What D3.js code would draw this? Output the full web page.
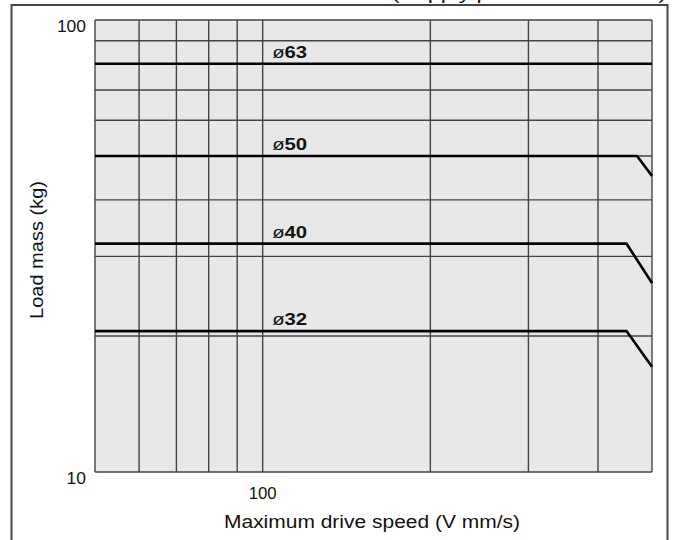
<!DOCTYPE html>
<html>
<head>
<meta charset="utf-8">
<script src="https://cdn.jsdelivr.net/npm/d3@7"></script>
<style>
  body { margin: 0; background: #fff; }
  text { font-family: "Liberation Sans", Arial, sans-serif; fill: #111; }
</style>
</head>
<body>
<div class="canva"></div>
<script>
// values
const boreSizes = ["63", "50", "40", "32"];
const flatMass = [80, 50, 32, 20.5];
const bendSpeed = [500, 470, 450, 450];
const endMass = [80, 45.2, 26.2, 17.1];
const labelSpeed = 104;

const xGrid = [50, 60, 70, 80, 90, 100, 200, 300, 400, 500];
const yGrid = [10, 20, 30, 40, 50, 60, 70, 80, 90, 100];
const xTickLabels = [100];
const yTickLabels = [10, 100];

const svg = d3.select(".canva").append("svg")
    .attr("width", 675)
    .attr("height", 540);

const margin = {top: 20, right: 23, bottom: 68, left: 95};
const graphWidth = 675 - margin.left - margin.right;
const graphHeight = 540 - margin.top - margin.bottom;

// outer frame (runs past the bottom of the picture)
svg.append("rect")
    .attr("x", 11.5).attr("y", 5)
    .attr("width", 656).attr("height", 560)
    .attr("fill", "none")
    .attr("stroke", "#444")
    .attr("stroke-width", 2);

// heading, mostly cut off at the very top like the reference
svg.append("text")
    .attr("x", 666).attr("y", 0)
    .attr("text-anchor", "end")
    .attr("font-size", 17)
    .attr("textLength", 274)
    .attr("lengthAdjust", "spacingAndGlyphs")
    .text("(Supply pressure 0.5 MPa)");

const g = svg.append("g")
    .attr("transform", `translate(${margin.left}, ${margin.top})`);

const x = d3.scaleLog().domain([50, 500]).range([0, graphWidth]);
const y = d3.scaleLog().domain([10, 100]).range([graphHeight, 0]);

g.append("rect")
    .attr("width", graphWidth)
    .attr("height", graphHeight)
    .attr("fill", "#e8e8e8");

g.selectAll(".vgrid").data(xGrid).enter()
    .append("line")
    .attr("class", "vgrid")
    .attr("x1", d => x(d)).attr("x2", d => x(d))
    .attr("y1", 0).attr("y2", graphHeight)
    .attr("stroke", "#444")
    .attr("stroke-width", 1.4);

g.selectAll(".hgrid").data(yGrid).enter()
    .append("line")
    .attr("class", "hgrid")
    .attr("x1", 0).attr("x2", graphWidth)
    .attr("y1", d => y(d)).attr("y2", d => y(d))
    .attr("stroke", "#444")
    .attr("stroke-width", 1.4);

// tick labels
g.selectAll(".xlab").data(xTickLabels).enter()
    .append("text")
    .attr("x", d => x(d))
    .attr("y", graphHeight + 27)
    .attr("text-anchor", "middle")
    .attr("font-size", 16)
    .attr("textLength", 28)
    .attr("lengthAdjust", "spacingAndGlyphs")
    .text(d => d);

g.selectAll(".ylab").data(yTickLabels).enter()
    .append("text")
    .attr("x", -9)
    .attr("y", d => y(d) + 12)
    .attr("text-anchor", "end")
    .attr("font-size", 16)
    .attr("textLength", d => String(d).length * 9.7)
    .attr("lengthAdjust", "spacingAndGlyphs")
    .text(d => d);

// axis titles
svg.append("text")
    .attr("x", 372).attr("y", 528)
    .attr("text-anchor", "middle")
    .attr("font-size", 17.5)
    .attr("textLength", 296)
    .attr("lengthAdjust", "spacingAndGlyphs")
    .text("Maximum drive speed (V mm/s)");

svg.append("text")
    .attr("transform", "translate(43, 250) rotate(-90)")
    .attr("text-anchor", "middle")
    .attr("font-size", 18)
    .attr("textLength", 138)
    .attr("lengthAdjust", "spacingAndGlyphs")
    .text("Load mass (kg)");

// bore curves
const line = d3.line()
    .x(d => x(d[0]))
    .y(d => y(d[1]));

const curves = boreSizes.map((s, i) => ({
    size: s,
    pts: [[50, flatMass[i]], [bendSpeed[i], flatMass[i]], [500, endMass[i]]]
}));

g.selectAll(".curve").data(curves).enter()
    .append("path")
    .attr("class", "curve")
    .attr("d", d => line(d.pts))
    .attr("fill", "none")
    .attr("stroke", "#000")
    .attr("stroke-width", 2.6);

const labels = g.selectAll(".bore").data(curves).enter()
    .append("text")
    .attr("class", "bore")
    .attr("x", x(labelSpeed))
    .attr("y", d => y(d.pts[0][1]) - 6)
    .attr("font-size", 17)
    .attr("textLength", 35)
    .attr("lengthAdjust", "spacingAndGlyphs");

labels.append("tspan").text("ø");
labels.append("tspan").attr("font-weight", "bold").text(d => d.size);
</script>
</body>
</html>
